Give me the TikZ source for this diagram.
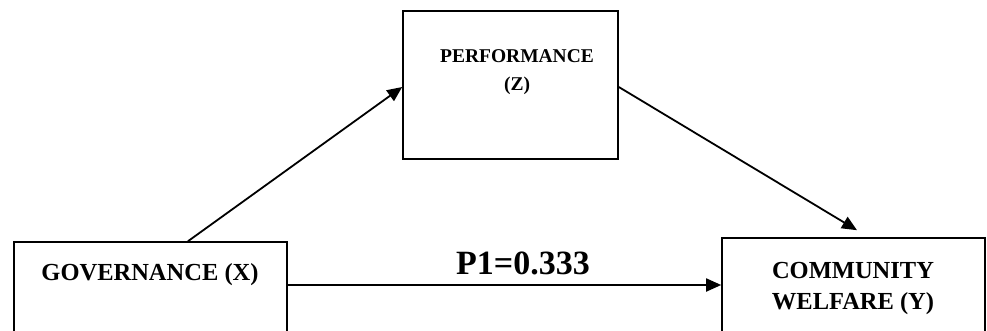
\documentclass[tikz,border=0pt]{standalone}
\usepackage{fontspec}
\setmainfont{Liberation Serif}
\usetikzlibrary{arrows.meta}
\begin{document}
\begin{tikzpicture}[x=1pt,y=-1pt,
  box/.style={draw=black,line width=1.6pt,rectangle,minimum width=#1,inner sep=0pt},
  arr/.style={draw=black,line width=1.8pt,-{Triangle[length=15pt,width=13pt]}},
  lbl/.style={font=\bfseries\fontsize{24}{30}\selectfont,align=center,inner sep=0pt}]
\useasboundingbox (0,0) rectangle (987,331);
\clip (0,0) rectangle (987,331);
\fill[white] (0,0) rectangle (987,331);
% boxes
\node[box=215pt,minimum height=148pt] (pz) at (510.5,85) {};
\node[box=273pt,minimum height=110pt] (gx) at (150.5,297) {};
\node[box=263pt,minimum height=114pt] (cw) at (853.5,295) {};
% texts
\node[lbl,font=\bfseries\fontsize{19.5}{28}\selectfont] (tz) at (517,72) {PERFORMANCE\\(Z)};
\node[lbl,font=\bfseries\fontsize{24.5}{30}\selectfont] (tx) at (150,275) {GOVERNANCE (X)};
\node[lbl,font=\bfseries\fontsize{24.5}{31}\selectfont] (ty) at (853,288) {COMMUNITY\\WELFARE (Y)};
\node[lbl,font=\bfseries\fontsize{34}{38}\selectfont] (p1) at (523,263) {P1=0.333};
% connectors
\coordinate (xs) at ([xshift=37.5pt]gx.north);
\coordinate (ze) at ([yshift=-2pt]pz.west);
\coordinate (zs) at ([yshift=-2pt]pz.east);
\coordinate (ye) at ([xshift=3.5pt,yshift=7pt]cw.north);
\draw[arr] (xs) -- (ze);
\draw[arr] (zs) -- (ye);
\draw[arr] ([yshift=12pt]gx.east) -- ([yshift=12pt]gx.east -| cw.west);
\end{tikzpicture}
\end{document}
